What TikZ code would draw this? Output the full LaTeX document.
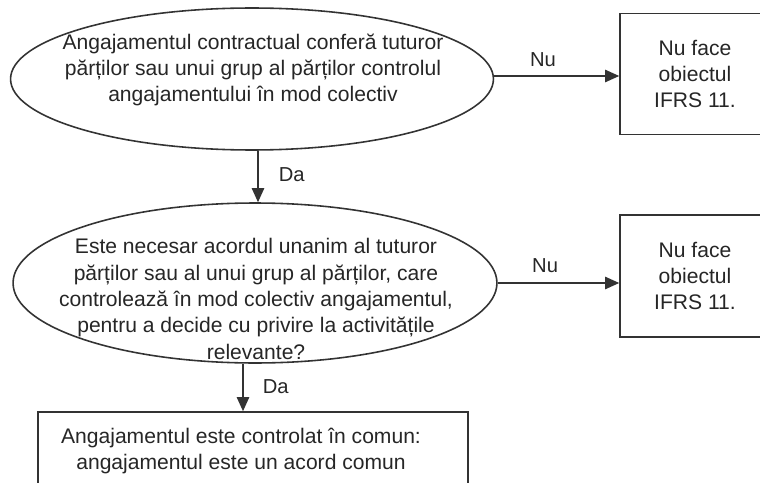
\documentclass[tikz,border=0pt]{standalone}
\usepackage{fontspec}
\setmainfont{Liberation Sans}
\usepackage{tikz}
\usetikzlibrary{shapes.geometric,positioning,arrows.meta}

\begin{document}
\begin{tikzpicture}[x=0.02cm,y=-0.02cm,
    decision/.style={draw=black!80, line width=0.9pt, ellipse, inner sep=0pt},
    txt/.style={align=center, text=black!85, inner sep=0pt, font=\fontsize{12}{15}\selectfont},
    outcome/.style={draw=black!80, line width=0.9pt, rectangle, txt},
    flow/.style={draw=black!80, line width=0.9pt, -{Triangle[length=8pt,width=7pt]}},
    lbl/.style={text=black!85, inner sep=0pt, font=\fontsize{11.5}{14}\selectfont}]
    \useasboundingbox (0,0) rectangle (760,483);
    \node[decision, minimum width=9.66cm, minimum height=2.84cm] (q1) at (252,79) {};
    \node[txt] (q1txt) at (253,70) {Angajamentul contractual conferă tuturor\\
        părților sau unui grup al părților controlul\\
        angajamentului în mod colectiv};
    \node[decision, minimum width=9.68cm, minimum height=3.2cm] (q2) at (255,283) {};
    \node[txt] (q2txt) at (256,299) {Este necesar acordul unanim al tuturor\\
        părților sau al unui grup al părților, care\\
        controlează în mod colectiv angajamentul,\\
        pentru a decide cu privire la activitățile\\
        relevante?};
    \node[outcome, minimum width=3cm, minimum height=2.42cm] (no1) at (695,74) {Nu face\\ obiectul\\ IFRS 11.};
    \node[outcome, minimum width=3cm, minimum height=2.44cm] (no2) at (695,276) {Nu face\\ obiectul\\ IFRS 11.};
    \node[outcome, minimum width=8.6cm, minimum height=1.8cm] (res) at (253,457) {};
    \node[txt] (restxt) at (241,451) {Angajamentul este controlat în comun:\\
        angajamentul este un acord comun};
    \draw[flow] ([xshift=0.12cm]q1.south) -- ([xshift=0.12cm]q1.south |- q2.north)
        node[lbl, pos=.47, right=0.4cm] {Da};
    \draw[flow] ([xshift=-0.24cm]q2.south) -- ([xshift=-0.24cm]q2.south |- res.north)
        node[lbl, pos=.49, right=0.38cm] {Da};
    \draw[flow] ([yshift=0.06cm]q1.east) -- ([yshift=0.06cm]q1.east -| no1.west)
        node[lbl, pos=.39, above=0.18cm] {Nu};
    \draw[flow] (q2.east) -- (q2.east -| no2.west)
        node[lbl, pos=.39, above=0.2cm] {Nu};
\end{tikzpicture}
\end{document}
